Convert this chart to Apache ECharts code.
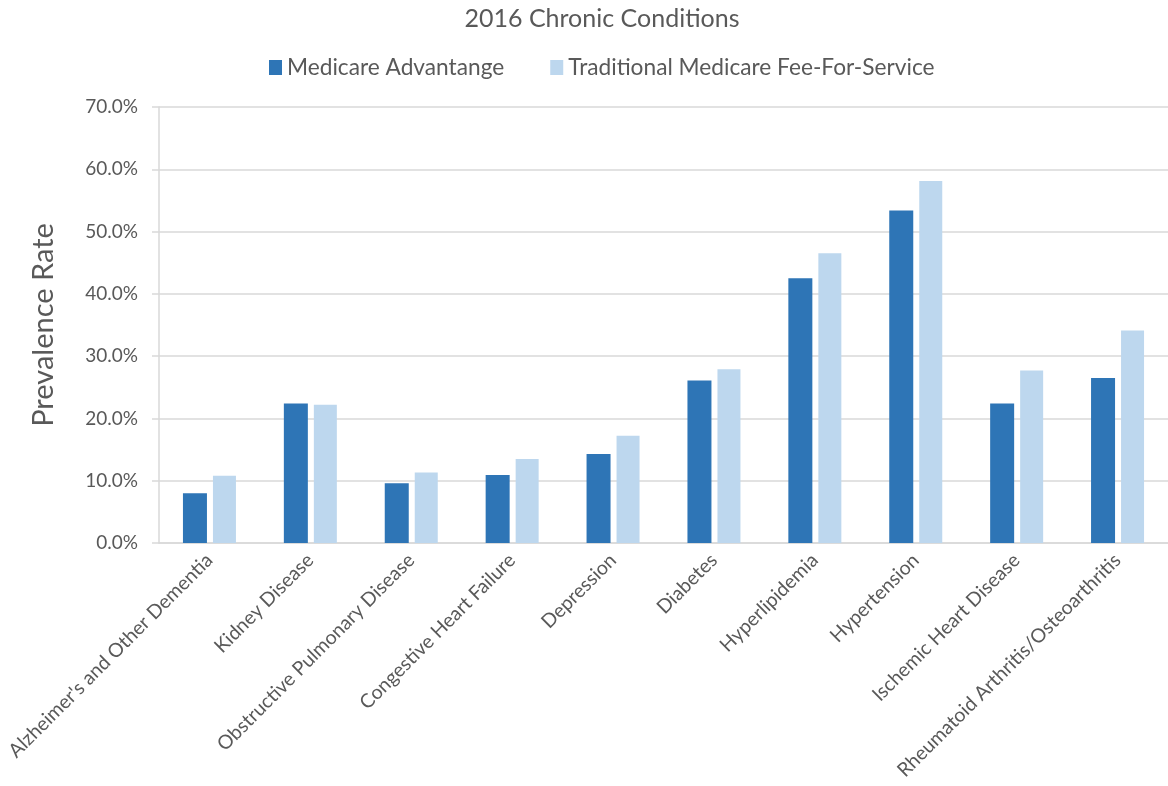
<!DOCTYPE html>
<html>
<head>
<meta charset="utf-8">
<script src="https://cdn.jsdelivr.net/npm/echarts@6/dist/echarts.min.js"></script>
<style>
html,body{margin:0;padding:0;background:#fff;}
#chart{width:1168px;height:786px;}
</style>
</head>
<body>
<div id="chart"></div>
<script>
const categories = ["Alzheimer's and Other Dementia","Kidney Disease","Obstructive Pulmonary Disease","Congestive Heart Failure","Depression","Diabetes","Hyperlipidemia","Hypertension","Ischemic Heart Disease","Rheumatoid Arthritis/Osteoarthritis"];
const medicareAdvantage = [8.0, 22.4, 9.6, 10.9, 14.3, 26.1, 42.5, 53.4, 22.4, 26.5];
const traditionalFFS = [10.8, 22.2, 11.3, 13.5, 17.2, 27.9, 46.5, 58.1, 27.7, 34.1];
const seriesNames = ["Medicare Advantange","Traditional Medicare Fee-For-Service"];
const yTicks = [0, 10, 20, 30, 40, 50, 60, 70];

const FONT = "Lato";
const chart = echarts.init(document.getElementById('chart'), null, {renderer:'canvas'});
chart.setOption({
  backgroundColor:'#fff',
  animation:false,
  title:{
    text:'2016 Chronic Conditions',
    left:597, top:1, textAlign:'center',
    textStyle:{fontFamily:FONT,fontSize:25,fontWeight:'normal',color:'#595959'}
  },
  legend:{
    data:seriesNames,
    left:264, top:51,
    itemWidth:13, itemHeight:15, itemGap:46,
    icon:'rect',
    textStyle:{fontFamily:FONT,fontSize:22.7,color:'#595959'}
  },
  grid:{left:159, top:107, width:1019, height:436, containLabel:false},
  xAxis:{
    type:'category',
    data:categories,
    axisLine:{lineStyle:{color:'#D9D9D9',width:1.5}},
    axisTick:{show:false},
    axisLabel:{rotate:45, interval:0, fontFamily:FONT, fontSize:19.5, color:'#595959', margin:14}
  },
  yAxis:{
    type:'value', min:yTicks[0], max:yTicks[yTicks.length-1], interval:10,
    name:'Prevalence Rate',
    nameLocation:'middle', nameGap:101, nameRotate:90,
    nameTextStyle:{fontFamily:FONT,fontSize:29,color:'#595959'},
    axisLine:{show:true,lineStyle:{color:'#D9D9D9',width:1.5}},
    axisTick:{show:true,length:7,lineStyle:{color:'#D9D9D9',width:1.5}},
    axisLabel:{fontFamily:FONT,fontSize:19,color:'#595959',margin:21,
      formatter:function(v){return v.toFixed(1)+'%';}},
    splitLine:{lineStyle:{color:'#D9D9D9',width:1.5}}
  },
  series:[
    {name:seriesNames[0],type:'bar',data:medicareAdvantage,barWidth:24,barGap:'25%',
     itemStyle:{color:'#2E75B6'}},
    {name:seriesNames[1],type:'bar',data:traditionalFFS,barWidth:23,
     itemStyle:{color:'#BDD7EE'}}
  ]
});
</script>
</body>
</html>
